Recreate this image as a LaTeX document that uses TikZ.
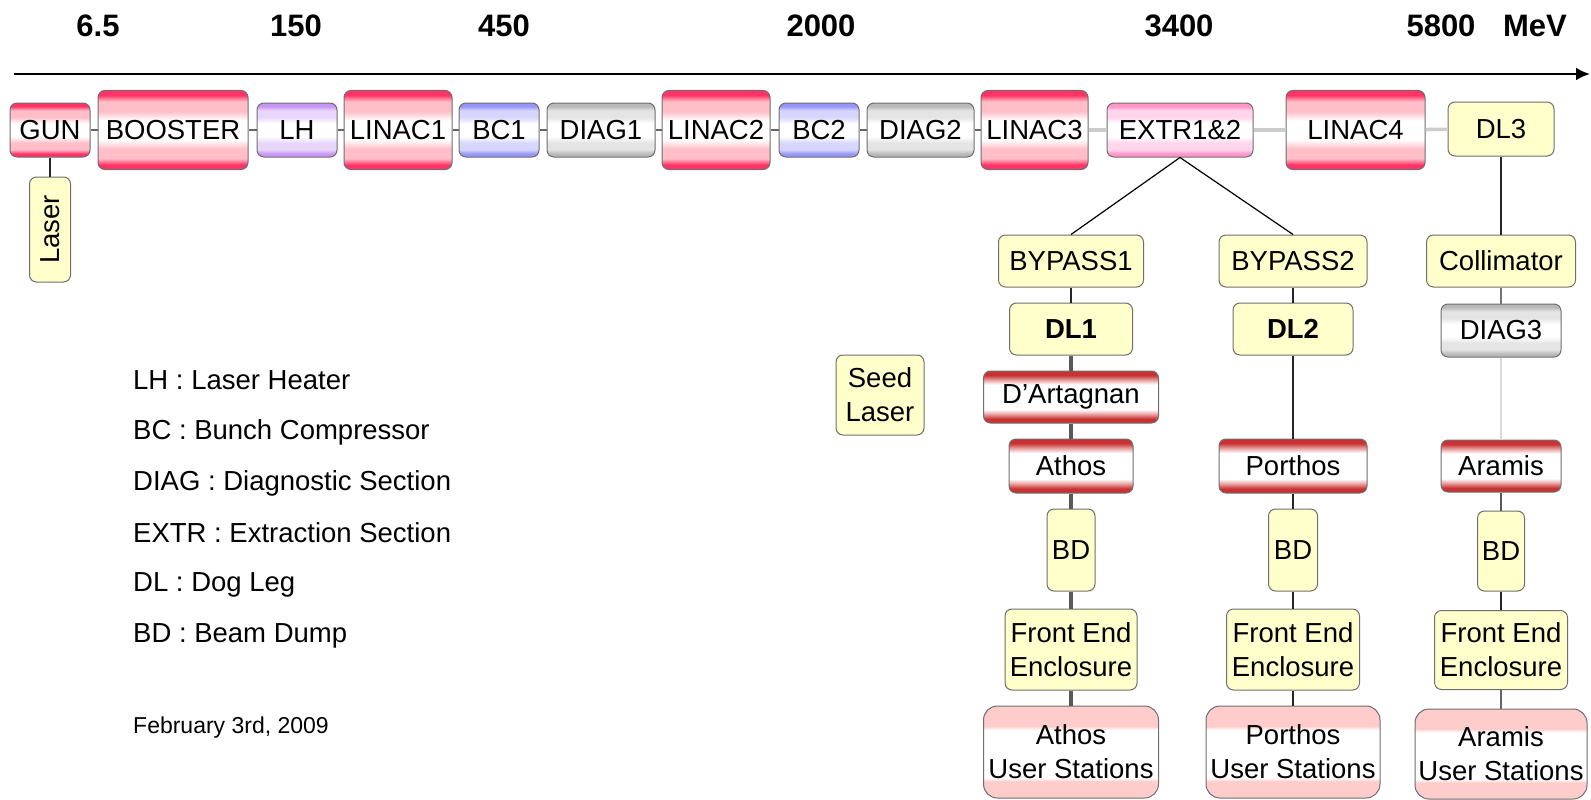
\documentclass[tikz,border=0pt]{standalone}
\usepackage{fontspec}
\setmainfont{Liberation Sans}
\usetikzlibrary{arrows.meta}

\definecolor{linacred}{RGB}{255,51,102}
\definecolor{linacpink}{RGB}{255,190,200}
\definecolor{lhlilac}{RGB}{200,150,245}
\definecolor{lhpale}{RGB}{232,214,252}
\definecolor{bcblue}{RGB}{150,150,250}
\definecolor{bcpale}{RGB}{214,214,252}
\definecolor{diaggray}{RGB}{185,185,185}
\definecolor{diagpale}{RGB}{228,228,228}
\definecolor{extrpink}{RGB}{255,150,200}
\definecolor{extrpale}{RGB}{255,214,236}
\definecolor{undred}{RGB}{200,50,50}
\definecolor{undpale}{RGB}{235,170,170}
\definecolor{userpink}{RGB}{255,204,204}
\definecolor{yelfill}{RGB}{255,255,204}
\definecolor{boxline}{RGB}{110,110,110}

\newcommand{\bandshading}[3]{%
  \pgfdeclareverticalshading{#1}{100bp}{color(0bp)=(#2); color(25bp)=(#2); color(28bp)=(#2); color(32bp)=(#3); color(38bp)=(#3); color(44bp)=(white); color(56bp)=(white); color(62bp)=(#3); color(68bp)=(#3); color(72bp)=(#2); color(75bp)=(#2); color(100bp)=(#2)}}
\bandshading{linacshade}{linacred}{linacpink}
\bandshading{lhshade}{lhlilac}{lhpale}
\bandshading{bcshade}{bcblue}{bcpale}
\bandshading{diagshade}{diaggray}{diagpale}
\bandshading{extrshade}{extrpink}{extrpale}
\pgfdeclareverticalshading{undshade}{100bp}{color(0bp)=(undred); color(25bp)=(undred); color(29bp)=(undred); color(34bp)=(undpale); color(38bp)=(white); color(62bp)=(white); color(66bp)=(undpale); color(71bp)=(undred); color(75bp)=(undred); color(100bp)=(undred)}
\pgfdeclareverticalshading{usershade}{100bp}{color(0bp)=(userpink); color(25bp)=(userpink); color(34bp)=(userpink); color(36bp)=(white); color(62bp)=(white); color(64bp)=(userpink); color(75bp)=(userpink); color(100bp)=(userpink)}

\tikzset{
  elem/.style={draw=boxline, line width=1pt, rounded corners=7pt, inner sep=0pt, align=center, text=black, font=\fontsize{27.5}{34}\selectfont},
  wh/.style 2 args={minimum width=#1, minimum height=#2},
  linac/.style={elem, shading=linacshade},
  lhbox/.style={elem, shading=lhshade},
  bcbox/.style={elem, shading=bcshade},
  diagbox/.style={elem, shading=diagshade},
  extrbox/.style={elem, shading=extrshade},
  undbox/.style={elem, shading=undshade},
  userbox/.style={elem, shading=usershade, rounded corners=14pt},
  yelbox/.style={elem, fill=yelfill},
  energy/.style={font=\bfseries\fontsize{31}{36}\selectfont},
  legend/.style={anchor=west, inner sep=0pt, font=\fontsize{27.5}{34}\selectfont},
  lnk/.style={draw=black!60, line width=1.5pt},
  feed/.style={draw=black!20, line width=3.5pt},
  beam/.style={draw=black!85, line width=2.5pt},
  beamgray/.style={draw=black!65, line width=3.5pt},
}

\begin{document}
\begin{tikzpicture}[x=1pt, y=-1pt]
		%%%%% START %%%%%
		\useasboundingbox (0,0) rectangle (1591,800);
		
		% energy axis
		\coordinate (ax0) at (14,74);
		\coordinate (ax1) at (1590,74);
		\draw[line width=2.5pt, -{Latex[length=14pt,width=13pt]}] (ax0) -- (ax1);
		\node[energy] (e1) at (98,26) {6.5};
		\node[energy] (e2) at (296,26) {150};
		\node[energy] (e3) at (504,26) {450};
		\node[energy] (e4) at (821,26) {2000};
		\node[energy] (e5) at (1179,26) {3400};
		\node[energy] (e6) at (1441,26) {5800};
		\node[energy] (e7) at (1535,26) {MeV};
		
		% main line
		\node[linac, wh={80}{54}] (gun) at (50,130) {GUN};
		\node[linac, wh={150}{79}] (booster) at (173,130) {BOOSTER};
		\node[lhbox, wh={80}{54}] (lh) at (297,130) {LH};
		\node[linac, wh={108}{79}] (linac1) at (398,130) {LINAC1};
		\node[bcbox, wh={80}{54}] (bc1) at (499,130) {BC1};
		\node[diagbox, wh={108}{54}] (diag1) at (601,130) {DIAG1};
		\node[linac, wh={108}{79}] (linac2) at (716,130) {LINAC2};
		\node[bcbox, wh={80}{54}] (bc2) at (819,130) {BC2};
		\node[diagbox, wh={107}{54}] (diag2) at (920.5,130) {DIAG2};
		\node[linac, wh={107}{79}] (linac3) at (1034.5,130) {LINAC3};
		\node[extrbox, wh={146}{54}] (extr) at (1180,130) {EXTR1\&2};
		\node[linac, wh={139}{79}] (linac4) at (1355.5,130) {LINAC4};
		\node[yelbox, wh={106}{54}] (dl3) at (1501,129) {DL3};
		\node[yelbox, wh={105}{41}, rotate=90] (laser) at (50,229.5) {Laser};
		
		\draw[lnk] (gun) -- (booster);
		\draw[lnk] (booster) -- (lh);
		\draw[lnk] (lh) -- (linac1);
		\draw[lnk] (linac1) -- (bc1);
		\draw[lnk] (bc1) -- (diag1);
		\draw[lnk] (diag1) -- (linac2);
		\draw[lnk] (linac2) -- (bc2);
		\draw[lnk] (bc2) -- (diag2);
		\draw[lnk] (diag2) -- (linac3);
		\draw[feed] (linac3) -- (extr);
		\draw[feed] (extr) -- (linac4);
		\draw[feed] (linac4) -- (dl3);
		\draw[beam] (gun) -- (laser);
		
		% Athos line
		\node[yelbox, wh={145}{52}] (byp1) at (1071,261) {BYPASS1};
		\node[yelbox, wh={123}{52}, font=\bfseries\fontsize{27.5}{34}\selectfont] (dl1) at (1071,329) {DL1};
		\node[undbox, wh={175}{52}] (dart) at (1071,397) {D'Artagnan};
		\node[undbox, wh={124}{54}] (athos) at (1071,466) {Athos};
		\node[yelbox, wh={48}{82}] (bd1) at (1071,550) {BD};
		\node[yelbox, wh={132}{81}] (fe1) at (1071,649.5) {Front End\\Enclosure};
		\node[userbox, wh={175}{92}] (us1) at (1071,752) {Athos\\User Stations};
		
		% Porthos line
		\node[yelbox, wh={148}{52}] (byp2) at (1293,261) {BYPASS2};
		\node[yelbox, wh={120}{52}, font=\bfseries\fontsize{27.5}{34}\selectfont] (dl2) at (1293,329) {DL2};
		\node[undbox, wh={148}{54}] (porthos) at (1293,466) {Porthos};
		\node[yelbox, wh={49}{82}] (bd2) at (1293,550) {BD};
		\node[yelbox, wh={133}{81}] (fe2) at (1293,649.5) {Front End\\Enclosure};
		\node[userbox, wh={174}{92}] (us2) at (1293,752) {Porthos\\User Stations};
		
		% Aramis line
		\node[yelbox, wh={149}{52}] (colli) at (1501,261) {Collimator};
		\node[diagbox, wh={120}{53}] (diag3) at (1501,330.5) {DIAG3};
		\node[undbox, wh={120}{52}] (aramis) at (1501,466) {Aramis};
		\node[yelbox, wh={47}{80}] (bd3) at (1501,551) {BD};
		\node[yelbox, wh={133}{79}] (fe3) at (1501,650) {Front End\\Enclosure};
		\node[userbox, wh={172}{90}] (us3) at (1501,754) {Aramis\\User Stations};
		
		\node[yelbox, wh={88}{80}] (seed) at (880,395) {Seed\\Laser};
		
		\draw[line width=1.2pt] (extr.south) -- (byp1.north);
		\draw[line width=1.2pt] (extr.south) -- (byp2.north);
		
		\draw[beam] (byp1) -- (dl1);
		\draw[beamgray] (dl1) -- (dart);
		\draw[beamgray] (dart) -- (athos);
		\draw[beamgray] (athos) -- (bd1);
		\draw[beamgray] (bd1) -- (fe1);
		\draw[beamgray] (fe1) -- (us1);
		
		\draw[beam] (byp2) -- (dl2);
		\draw[beam] (dl2) -- (porthos);
		\draw[beam] (porthos) -- (bd2);
		\draw[beam] (bd2) -- (fe2);
		\draw[beam] (fe2) -- (us2);
		
		\draw[beam] (dl3) -- (colli);
		\draw[draw=black!55, line width=2pt] (colli) -- (diag3);
		\draw[draw=black!15, line width=2pt] (diag3) -- (aramis);
		\draw[draw=black!65, line width=2pt] (aramis) -- (bd3);
		\draw[beam] (bd3) -- (fe3);
		\draw[draw=black!60, line width=2pt] (fe3) -- (us3);
		
		% legend
		\node[legend] (leglh) at (133,380) {LH : Laser Heater};
		\node[legend] (legbc) at (133,432) {BC : Bunch Compressor};
		\node[legend] (legdiag) at (133,483) {DIAG : Diagnostic Section};
		\node[legend] (legextr) at (133,533) {EXTR : Extraction Section};
		\node[legend] (legdl) at (133,585) {DL : Dog Leg};
		\node[legend] (legbd) at (133,636) {BD : Beam Dump};
		\node[legend, font=\fontsize{23}{28}\selectfont] (date) at (133,728) {February 3rd, 2009};
		
		%%%%% END %%%%%
	\end{tikzpicture}
\end{document}
